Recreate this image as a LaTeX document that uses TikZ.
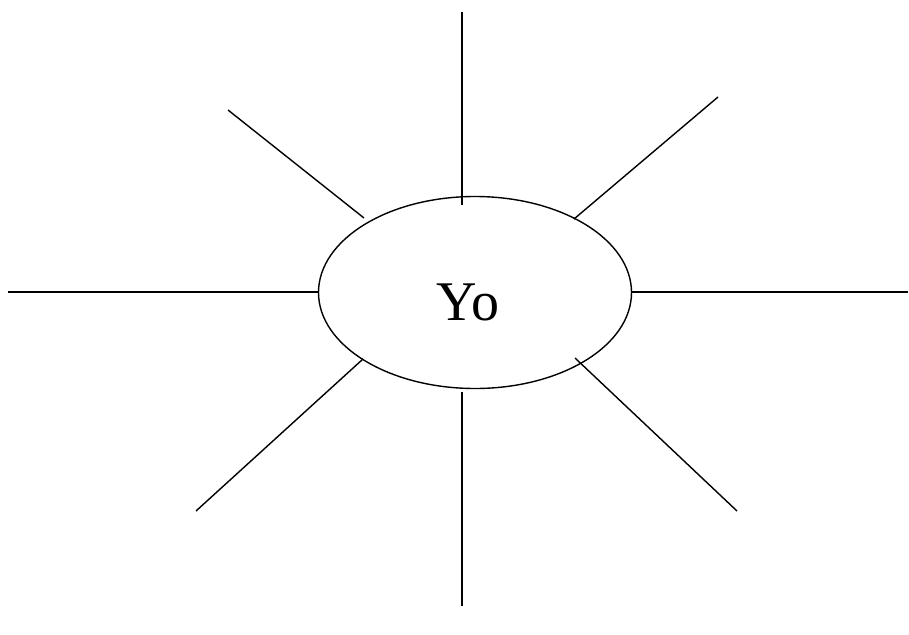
\documentclass[tikz,border=0pt]{standalone}
\usepackage{fontspec}
\setmainfont{Liberation Serif}
\usetikzlibrary{shapes.geometric}
\begin{document}
\begin{tikzpicture}[x=1pt,y=-1pt,
  ray/.style={line width=1.4pt,black},
  oval/.style={ellipse,draw,line width=1.4pt,minimum width=313pt,minimum height=192pt,inner sep=0pt}]
\useasboundingbox (0,0) rectangle (909,634);
\node[oval] (me) at (475,292.5) {};
\node[anchor=base,font=\fontsize{56}{60}\selectfont,inner sep=0pt] (yo) at (468,320) {Yo};
% free ends
\coordinate (t1) at (462,12);   \coordinate (t0) at (462,205);
\coordinate (ul1) at (228,110); \coordinate (ul0) at (364,218);
\coordinate (ur1) at (718,97);  \coordinate (ur0) at (574,219);
\coordinate (l1) at (8,292);    \coordinate (l0) at (318.5,292);
\coordinate (r1) at (908,292);  \coordinate (r0) at (631.5,292);
\coordinate (ll1) at (196,511); \coordinate (ll0) at (363,359);
\coordinate (lr1) at (737,511); \coordinate (lr0) at (575,358);
\coordinate (b1) at (462,606);  \coordinate (b0) at (462,392);
\draw[ray] (t0) -- (t1);
\draw[ray] (ul0) -- (ul1);
\draw[ray] (ur0) -- (ur1);
\draw[ray] (l0) -- (l1);
\draw[ray] (r0) -- (r1);
\draw[ray] (ll0) -- (ll1);
\draw[ray] (lr0) -- (lr1);
\draw[ray] (b0) -- (b1);
\end{tikzpicture}
\end{document}
